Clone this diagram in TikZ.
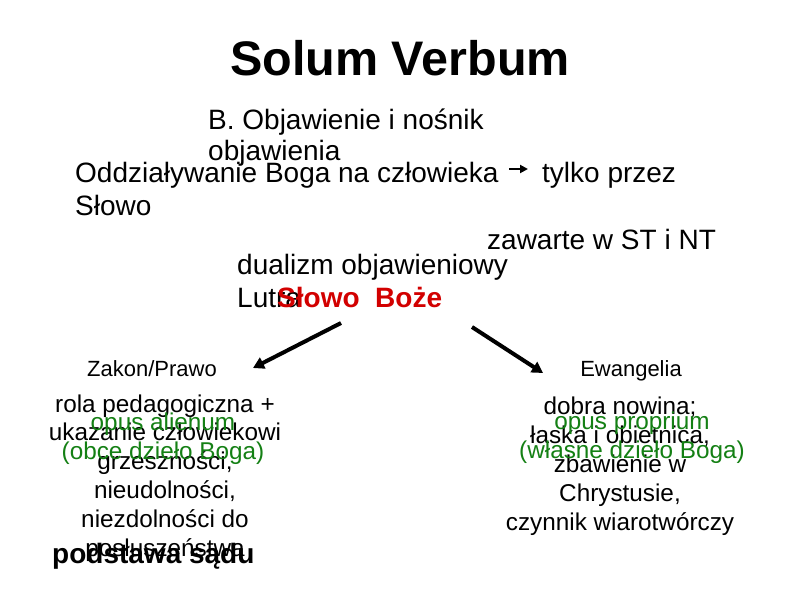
\documentclass[tikz,border=0pt]{standalone}
\usepackage{xcolor}
\usepackage{fontspec}
\setmainfont{Liberation Sans}
\usepackage{tikz}
\usetikzlibrary{arrows.meta}

\definecolor{opusgreen}{RGB}{20,128,20}
\definecolor{wordred}{RGB}{210,0,0}

\tikzset{
    body/.style={inner sep=0pt, font=\fontsize{28}{32}\selectfont},
    block/.style={inner sep=0pt, align=center, font=\fontsize{24.3}{28.8}\selectfont},
    heading/.style={inner sep=0pt, font=\fontsize{22}{26}\selectfont},
    opus/.style={block, text=opusgreen},
    thickarrow/.style={-{Triangle[length=11pt,width=12pt]}, line width=4pt}
}

\begin{document}
\begin{tikzpicture}[x=1pt,y=-1pt]
            \useasboundingbox[fill=white] (0,0) rectangle (800,600);

            \node[anchor=base, font=\fontsize{48.5}{56}\selectfont\bfseries, inner sep=0pt] (title) at (400,75) {Solum Verbum};

            \node[body, anchor=base west] (part) at (208,129) {B. Objawienie i nośnik};
            \node[body, anchor=base west] (partb) at (208,160) {objawienia};
            \node[body, anchor=base west] (action) at (75,182) {Oddziaływanie Boga na człowieka};
            \coordinate (small1) at (509,169);
            \coordinate (small2) at (528,169);
            \draw[-{Triangle[length=8pt,width=8pt]}, line width=2.5pt] (small1) -- (small2);
            \node[body, anchor=base west] (only) at (542,182) {tylko przez};
            \node[body, anchor=base west] (word) at (75,215) {Słowo};
            \node[body, anchor=base west] (contained) at (487,249) {zawarte w ST i NT};
            \node[body, anchor=base west] (dualism) at (237,274) {dualizm objawieniowy};
            \node[body, anchor=base west] (luther) at (237,307) {Lutra};
            \node[body, anchor=base west, font=\fontsize{28}{32}\selectfont\bfseries, text=wordred] (godword) at (277,307) {Słowo\ \ Boże};

            \coordinate (lstart) at (341,323);
            \coordinate (lend) at (253,368);
            \coordinate (rstart) at (472,327);
            \coordinate (rend) at (543,373);
            \draw[thickarrow] (lstart) -- (lend);
            \draw[thickarrow] (rstart) -- (rend);

            \node[heading, anchor=base] (law) at (152,376) {Zakon/Prawo};
            \node[heading, anchor=base] (gospel) at (631,376) {Ewangelia};

            % multi-line nodes: base is the last line
            \node[block, anchor=base] (lawtext) at (165,556) {rola pedagogiczna +\\ukazanie człowiekowi\\grzeszności,\\nieudolności,\\niezdolności do\\posłuszeństwa};
            \node[opus, anchor=base] (alien) at (163,459) {opus alienum\\(obce dzieło Boga)};
            \node[anchor=base west, inner sep=0pt, font=\fontsize{28}{32}\selectfont\bfseries] (judgement) at (52,563) {podstawa sądu};

            \node[block, anchor=base] (gospeltext) at (620,530) {dobra nowina;\\łaska i obietnica,\\zbawienie w\\Chrystusie,\\czynnik wiarotwórczy};
            \node[opus, anchor=base] (proper) at (632,458) {opus proprium\\(własne dzieło Boga)};
        \end{tikzpicture}
\end{document}
